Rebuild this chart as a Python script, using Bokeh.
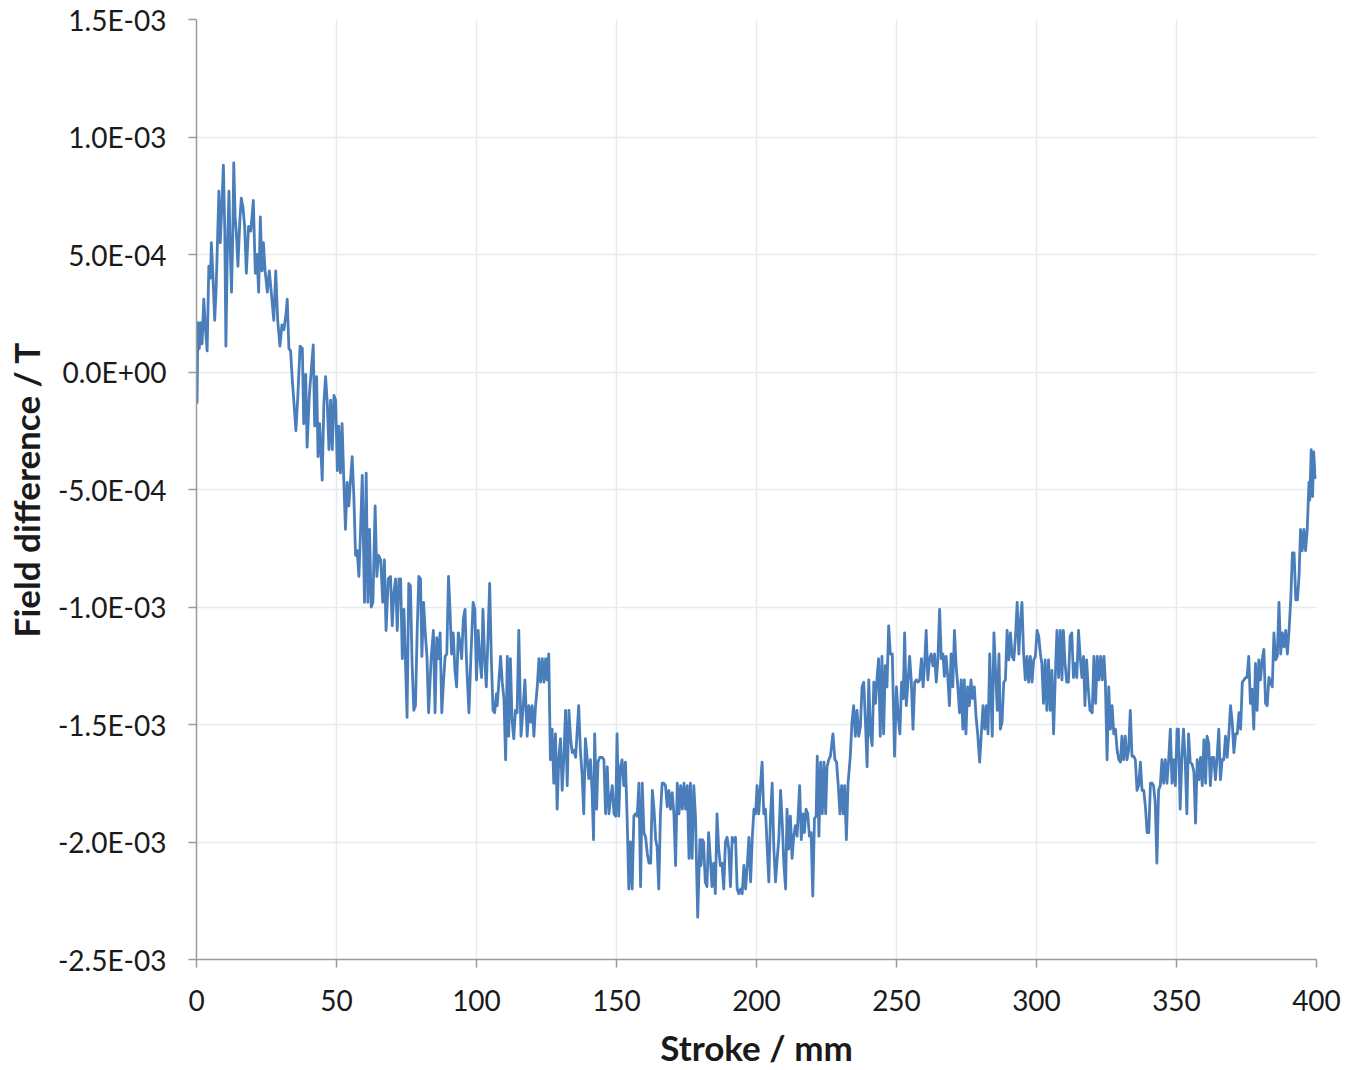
from bokeh.plotting import figure
from bokeh.models import Range1d, FixedTicker, CustomJSTickFormatter
from bokeh.embed import file_html
from bokeh.resources import INLINE

# Readings (stroke in mm, field difference in units of 1E-4 T)
readings_000_033 = [
    (0.0, -0.6), (0.2, -1.3), (0.5, 2.1), (1.0, 1.0), (1.5, 2.1), (2.0, 1.2), (2.6, 3.1), (3.2, 1.8),
    (3.8, 0.9), (4.4, 4.5), (5.0, 4.0), (5.3, 5.5), (5.8, 4.3), (6.5, 2.2), (7.0, 3.5), (7.6, 6.0),
    (8.0, 7.7), (8.5, 5.5), (9.2, 7.5), (9.6, 8.8), (10.1, 6.0), (10.5, 1.1), (11.0, 5.0), (11.6, 7.7),
    (12.0, 5.5), (12.5, 3.4), (13.0, 6.0), (13.3, 8.9), (13.8, 6.6), (14.2, 6.0), (14.8, 4.5), (15.5, 6.5),
    (16.0, 7.4), (16.6, 7.0), (17.2, 6.2), (17.8, 4.2), (18.6, 6.2), (19.4, 6.0), (20.3, 7.3), (21.0, 4.2),
    (21.6, 5.0), (22.2, 3.4), (22.8, 6.6), (23.4, 4.3), (23.9, 5.5), (24.5, 4.3), (25.3, 3.4), (26.0, 4.3),
    (27.0, 3.0), (27.6, 2.2), (28.3, 4.3), (29.0, 2.2), (29.8, 1.1), (30.5, 2.0), (31.2, 1.8), (32.0, 2.5),
    (32.4, 3.1), (33.0, 1.0),
]
readings_033_069 = [
    (33.6, 0.9), (34.2, -0.3), (34.8, -1.3), (35.5, -2.5), (36.2, -1.0), (37.0, 1.1), (37.8, 1.0), (38.3, -2.2),
    (39.0, -0.1), (39.5, -3.2), (40.3, -1.0), (41.0, 0.1), (41.7, 1.15), (42.2, -2.3), (42.9, -0.2), (43.4, -3.6),
    (44.0, -2.2), (44.9, -4.6), (45.5, -1.3), (46.1, -0.2), (46.7, -1.3), (47.3, -3.3), (47.9, -1.2), (48.5, -3.3),
    (49.1, -1.0), (49.7, -1.2), (50.3, -4.2), (50.8, -2.3), (51.4, -4.3), (52.0, -2.2), (52.6, -4.6), (53.2, -6.7),
    (53.8, -4.7), (54.4, -5.7), (55.0, -4.6), (55.6, -3.6), (56.2, -5.3), (56.8, -7.8), (57.4, -7.6), (58.0, -8.7),
    (58.6, -6.7), (59.2, -4.4), (60.0, -9.8), (60.6, -4.3), (61.2, -9.8), (61.8, -6.7), (62.4, -10.0), (63.0, -9.8),
    (63.8, -5.7), (64.4, -8.7), (65.0, -7.8), (65.8, -8.0), (66.5, -9.8), (67.1, -8.0), (67.7, -11.0), (68.5, -8.8),
]
readings_069_107 = [
    (69.3, -8.7), (69.9, -10.8), (70.5, -9.4), (71.1, -8.8), (71.7, -11.0), (72.3, -8.8), (72.9, -8.8), (73.5, -12.2),
    (74.1, -10.1), (74.6, -12.2), (75.2, -14.7), (75.8, -9.0), (76.4, -9.1), (77.0, -12.4), (77.6, -14.4), (78.2, -14.2),
    (78.8, -11.1), (79.4, -8.7), (80.0, -8.8), (80.5, -12.1), (81.1, -9.8), (81.7, -11.1), (82.3, -12.1), (82.9, -14.5),
    (83.8, -12.2), (84.6, -11.0), (85.2, -14.5), (85.8, -11.3), (86.4, -12.2), (87.0, -11.1), (87.6, -14.5), (88.2, -13.2),
    (88.8, -12.1), (89.4, -12.0), (90.0, -8.7), (90.5, -10.0), (91.1, -12.0), (91.7, -11.1), (92.3, -12.7), (92.9, -13.4),
    (93.5, -11.1), (94.1, -11.5), (94.7, -12.2), (95.3, -10.5), (95.9, -10.1), (96.4, -12.2), (97.3, -14.5), (98.0, -12.1),
    (98.8, -9.8), (99.4, -10.1), (100.0, -13.1), (100.6, -11.0), (101.2, -12.2), (101.8, -13.0), (102.3, -10.1), (102.9, -12.2),
    (103.5, -13.4), (104.1, -11.3), (104.7, -9.0), (105.3, -12.2), (105.9, -14.4), (106.5, -14.5), (107.1, -13.7),
]
readings_107_141 = [
    (107.4, -14.2), (108.6, -12.1), (109.2, -13.2), (109.8, -13.9), (110.4, -16.5), (111.0, -12.1), (111.5, -15.5), (112.1, -12.2),
    (112.7, -14.8), (113.3, -15.6), (113.9, -14.4), (114.5, -14.5), (115.1, -11.0), (115.9, -15.5), (116.7, -14.2), (117.3, -13.1),
    (118.1, -15.5), (118.7, -14.2), (119.3, -14.9), (119.9, -14.2), (120.5, -15.5), (121.1, -14.2), (121.7, -13.4), (122.3, -12.2),
    (122.9, -13.2), (123.5, -12.2), (124.1, -13.2), (124.7, -12.2), (125.2, -13.1), (125.8, -12.0), (126.4, -16.5), (127.0, -15.2),
    (127.6, -17.5), (128.2, -15.4), (128.8, -18.6), (129.4, -16.4), (130.0, -15.6), (130.6, -17.8), (131.2, -16.4), (131.8, -14.4),
    (132.4, -17.6), (133.0, -14.4), (133.6, -15.6), (134.2, -16.2), (134.8, -16.1), (135.4, -16.4), (136.0, -15.2), (136.5, -14.2),
    (137.1, -16.1), (137.7, -17.1), (138.3, -18.8), (138.9, -15.6), (139.5, -16.4), (140.1, -17.3), (140.7, -16.5),
]
readings_141_180 = [
    (141.3, -17.9), (141.8, -19.9), (142.2, -15.4), (142.9, -18.6), (143.4, -16.6), (144.0, -16.4), (144.9, -16.4), (145.5, -16.5),
    (146.1, -18.8), (146.7, -16.8), (147.3, -18.8), (147.9, -18.1), (148.5, -17.6), (149.1, -18.8), (149.7, -18.9), (150.2, -15.4),
    (150.8, -18.9), (151.4, -16.8), (152.0, -16.5), (152.6, -17.6), (153.2, -16.6), (153.8, -19.0), (154.4, -22.0), (155.0, -20.0),
    (155.6, -22.0), (156.2, -18.9), (156.8, -18.8), (157.4, -18.9), (158.0, -17.5), (158.6, -21.9), (159.2, -17.5), (159.8, -19.6),
    (160.4, -19.8), (161.0, -20.5), (161.6, -20.9), (162.2, -20.9), (162.8, -17.8), (163.4, -18.6), (164.0, -19.9), (164.5, -20.2),
    (165.1, -22.0), (165.7, -18.8), (166.3, -17.5), (166.9, -17.5), (167.5, -17.6), (168.1, -18.5), (168.7, -17.8), (169.3, -18.6),
    (169.9, -17.9), (170.5, -18.8), (171.1, -21.0), (171.7, -17.5), (172.3, -18.8), (172.9, -17.6), (173.5, -18.6), (174.1, -17.5),
    (174.7, -18.6), (175.3, -17.6), (175.9, -20.7), (176.4, -17.5), (177.0, -20.7), (177.6, -17.6), (178.2, -18.9), (179.0, -23.2),
    (179.8, -19.9),
]
readings_180_212 = [
    (180.2, -21.0), (180.7, -19.9), (181.1, -20.0), (181.7, -21.7), (182.3, -21.9), (182.9, -19.6), (183.5, -20.7), (184.1, -21.9),
    (184.7, -20.9), (185.3, -22.2), (185.9, -18.8), (186.5, -20.3), (187.1, -21.0), (187.7, -20.9), (188.3, -22.0), (188.9, -20.0),
    (189.5, -19.8), (190.1, -20.3), (190.7, -21.9), (191.3, -19.8), (191.9, -20.0), (192.5, -19.8), (193.1, -22.0), (193.7, -22.2),
    (194.3, -22.0), (194.9, -22.2), (195.5, -21.0), (196.1, -22.0), (196.7, -21.0), (197.3, -19.8), (197.9, -21.7), (198.5, -19.8),
    (199.1, -18.6), (199.7, -18.8), (200.2, -17.6), (200.8, -18.8), (201.4, -17.6), (202.0, -16.6), (202.6, -18.8), (203.2, -18.6),
    (203.8, -20.2), (204.4, -21.7), (205.0, -18.9), (205.6, -17.5), (206.2, -20.3), (206.8, -21.7), (207.4, -20.7), (208.0, -19.8),
    (208.6, -17.8), (209.2, -19.2), (209.8, -21.0), (210.4, -22.0), (210.9, -18.6), (211.5, -20.3), (212.1, -18.9),
]
readings_213_248 = [
    (212.7, -20.7), (213.3, -19.75), (213.9, -19.3), (214.5, -19.75), (215.4, -17.6), (216.0, -19.9), (216.6, -18.8), (217.1, -19.6),
    (217.7, -18.6), (218.3, -18.8), (218.9, -19.75), (219.5, -19.6), (220.1, -22.3), (220.7, -19.0), (221.3, -18.9), (221.7, -16.35),
    (222.3, -19.75), (222.9, -16.6), (223.5, -18.8), (224.1, -16.6), (224.7, -18.8), (225.2, -16.8), (225.8, -16.5), (226.4, -16.35),
    (227.3, -15.4), (228.0, -16.5), (228.6, -16.6), (229.2, -17.6), (229.8, -18.8), (230.4, -17.6), (231.0, -18.8), (231.5, -17.6),
    (232.1, -19.9), (232.7, -17.5), (233.5, -16.35), (234.1, -14.9), (234.7, -14.2), (235.3, -15.5), (235.9, -14.4), (236.5, -15.5),
    (237.1, -15.1), (237.7, -13.4), (238.3, -13.2), (238.9, -14.9), (239.5, -16.8), (240.1, -13.1), (240.7, -15.4), (241.3, -15.9),
    (241.9, -13.2), (242.5, -14.1), (243.0, -13.1), (243.6, -12.2), (244.2, -15.5), (244.8, -12.1), (245.4, -15.4), (246.0, -12.5),
    (246.6, -13.4), (247.2, -10.8), (247.8, -12.0),
]
readings_248_284 = [
    (248.5, -12.0), (249.3, -16.35), (250.0, -13.4), (250.6, -14.65), (251.2, -15.4), (251.8, -13.2), (252.4, -13.9), (252.9, -11.1),
    (253.5, -14.2), (254.1, -13.2), (254.7, -12.1), (255.3, -13.2), (255.9, -15.2), (256.5, -13.2), (257.1, -13.1), (257.7, -13.2),
    (258.3, -13.1), (258.9, -12.2), (259.5, -13.4), (260.0, -12.5), (260.6, -11.0), (261.2, -13.1), (261.8, -12.2), (262.4, -12.0),
    (263.0, -12.5), (263.6, -12.0), (264.2, -13.2), (264.8, -12.2), (265.4, -10.1), (266.0, -12.2), (266.6, -12.0), (267.1, -12.95),
    (267.7, -12.1), (268.3, -12.95), (268.9, -14.2), (269.5, -12.0), (270.1, -13.4), (270.7, -11.0), (271.3, -12.5), (271.9, -13.4),
    (272.5, -14.5), (273.1, -13.1), (273.7, -15.2), (274.2, -13.1), (274.8, -15.4), (275.4, -13.4), (276.0, -14.2), (276.6, -13.1),
    (277.2, -13.9), (277.8, -13.4), (278.4, -14.65), (279.0, -15.4), (279.7, -16.6), (280.3, -15.4), (280.9, -14.2), (281.5, -15.2),
    (282.1, -14.2), (282.7, -15.4), (283.3, -12.0),
]
readings_284_319 = [
    (284.2, -15.5), (284.8, -11.1), (285.4, -12.8), (286.0, -14.4), (286.6, -12.0), (287.1, -15.2), (287.7, -14.9), (288.3, -13.2),
    (288.9, -13.1), (289.5, -11.0), (290.1, -12.25), (290.7, -11.1), (291.3, -12.1), (291.9, -12.25), (292.5, -11.25), (293.1, -9.8),
    (293.7, -12.0), (294.2, -10.7), (294.8, -9.8), (295.4, -12.0), (296.0, -13.1), (296.6, -12.1), (297.2, -13.2), (297.8, -12.1),
    (298.4, -13.2), (299.0, -12.25), (299.6, -12.1), (300.2, -11.0), (300.8, -11.25), (301.4, -12.0), (301.9, -12.4), (302.5, -14.1),
    (303.1, -12.25), (303.7, -14.4), (304.3, -12.25), (304.9, -14.4), (305.5, -12.7), (306.1, -15.4), (306.7, -13.0), (307.3, -11.0),
    (307.9, -13.0), (308.5, -11.0), (309.1, -13.1), (309.6, -11.0), (310.2, -12.4), (310.8, -13.2), (311.4, -13.2), (312.0, -11.25),
    (312.6, -11.1), (313.2, -13.0), (313.8, -12.4), (314.4, -13.0), (315.0, -11.0), (315.6, -12.1), (316.2, -13.0), (316.8, -12.1),
    (317.3, -14.2), (317.9, -12.25), (318.5, -13.5), (319.1, -14.4),
]
readings_320_355 = [
    (319.9, -14.5), (320.5, -12.1), (321.1, -14.1), (321.7, -12.1), (322.3, -13.1), (322.9, -12.1), (323.5, -13.1), (324.1, -12.1),
    (324.6, -13.2), (325.2, -16.5), (325.8, -13.4), (326.4, -15.2), (327.0, -14.2), (327.6, -15.4), (328.2, -15.2), (328.8, -16.1),
    (329.4, -16.5), (330.0, -16.6), (330.5, -15.5), (331.1, -16.5), (331.7, -15.5), (332.3, -16.5), (332.9, -16.1), (333.5, -14.4),
    (334.1, -16.35), (334.7, -16.35), (335.3, -16.5), (335.9, -17.8), (336.5, -17.6), (337.1, -16.6), (337.7, -17.8), (338.3, -17.8),
    (338.9, -18.5), (339.5, -19.6), (340.1, -19.6), (340.7, -17.5), (341.3, -17.5), (341.8, -17.6), (342.4, -18.3), (343.0, -20.9),
    (343.6, -17.8), (344.2, -17.6), (344.8, -16.5), (345.4, -17.5), (346.0, -16.5), (346.6, -17.5), (347.2, -16.5), (347.8, -15.2),
    (348.4, -17.5), (349.0, -16.5), (349.6, -17.6), (350.2, -15.2), (350.7, -15.2), (351.3, -18.6), (351.9, -16.5), (352.5, -15.2),
    (353.1, -16.5), (353.7, -18.8), (354.3, -15.4), (354.9, -16.6),
]
readings_355_400 = [
    (355.6, -16.7), (356.2, -17.0), (356.8, -19.2), (357.4, -16.5), (358.0, -17.35), (358.6, -16.4), (359.2, -17.6), (359.8, -15.65),
    (360.4, -17.5), (360.9, -15.5), (361.5, -15.8), (362.1, -17.6), (362.7, -16.4), (363.3, -16.4), (363.9, -17.35), (364.5, -16.4),
    (365.1, -15.2), (365.7, -17.35), (366.3, -16.5), (366.9, -16.5), (367.5, -15.5), (368.1, -16.4), (368.7, -15.4), (369.3, -14.2),
    (369.9, -14.9), (370.5, -16.2), (371.1, -15.4), (371.7, -15.4), (372.3, -14.5), (372.9, -15.2), (373.5, -13.2), (374.1, -13.1),
    (374.7, -13.0), (375.2, -13.0), (375.8, -12.1), (376.4, -14.1), (377.0, -13.5), (377.6, -15.2), (378.2, -12.4), (378.8, -14.4),
    (379.4, -12.25), (380.0, -13.1), (380.6, -12.25), (381.2, -11.8), (381.8, -14.1), (382.4, -14.2), (383.0, -13.0), (383.6, -13.2),
    (384.2, -13.4), (384.8, -11.1), (385.4, -12.25), (386.0, -12.1), (386.6, -9.8), (387.2, -12.0), (387.8, -11.1), (388.4, -11.7),
    (389.0, -11.0), (389.6, -12.0), (390.2, -11.0), (390.8, -9.7), (391.4, -7.7), (392.0, -7.7), (392.6, -9.7), (393.2, -9.7),
    (393.8, -8.6), (394.3, -6.7), (394.9, -7.6), (395.5, -6.7), (396.1, -7.6), (396.7, -6.7), (397.3, -4.7), (397.6, -5.45),
    (398.1, -3.3), (398.6, -5.3), (399.0, -3.4), (399.5, -4.5), (400.0, -4.4),
]

x_ticks = [0, 50, 100, 150, 200, 250, 300, 350, 400]
y_ticks = [-0.0025, -0.0020, -0.0015, -0.0010, -0.0005, 0.0, 0.0005, 0.0010, 0.0015]
x_title = "Stroke / mm"
y_title = "Field difference / T"

all_readings = (readings_000_033 + readings_033_069 + readings_069_107 + readings_107_141 +
                readings_141_180 + readings_180_212 + readings_213_248 + readings_248_284 +
                readings_284_319 + readings_320_355 + readings_355_400)
stroke = [r[0] for r in all_readings]
field = [r[1] * 1e-4 for r in all_readings]

p = figure(width=1355, height=1070, output_backend="svg", toolbar_location=None,
           x_range=Range1d(0, 400), y_range=Range1d(-0.0025, 0.0015),
           min_border_left=196, min_border_right=39, min_border_top=19, min_border_bottom=110)
p.outline_line_color = None
p.background_fill_color = "white"
p.border_fill_color = "white"

p.line(stroke, field, line_color="#4A7EBB", line_width=2.8, line_join="round")

FONT = "Lato"
for ax in (p.xaxis[0], p.yaxis[0]):
    ax.axis_line_color = "#9a9a9a"
    ax.axis_line_width = 1.5
    ax.major_tick_line_color = "#9a9a9a"
    ax.major_tick_line_width = 1.5
    ax.major_tick_in = 0
    ax.major_tick_out = 8
    ax.minor_tick_line_color = None
    ax.major_label_text_font = FONT
    ax.major_label_text_font_size = "28px"
    ax.major_label_text_color = "#1a1a1a"
    ax.axis_label_text_font = FONT
    ax.axis_label_text_font_style = "bold"
    ax.axis_label_text_font_size = "35px"
    ax.axis_label_text_color = "#1a1a1a"

p.xaxis.ticker = FixedTicker(ticks=x_ticks)
p.yaxis.ticker = FixedTicker(ticks=y_ticks)
p.xaxis.axis_label = x_title
p.yaxis.axis_label = y_title
p.xaxis.major_label_standoff = 22
p.yaxis.major_label_standoff = 22
p.xaxis.axis_label_standoff = 12
p.yaxis.axis_label_standoff = 8
p.yaxis.formatter = CustomJSTickFormatter(code="""
    var s = tick.toExponential(1).toUpperCase();
    var parts = s.split("E");
    var e = parseInt(parts[1]);
    var a = Math.abs(e);
    var m = parts[0];
    if (m === "-0.0") { m = "0.0"; }
    return m + "E" + (e < 0 ? "-" : "+") + (a < 10 ? "0" : "") + a;
""")

p.xgrid.ticker = FixedTicker(ticks=x_ticks)
p.ygrid.ticker = FixedTicker(ticks=y_ticks)
p.xgrid.grid_line_color = "#e6ebf2"
p.ygrid.grid_line_color = "#e6ebf2"
p.xgrid.grid_line_width = 1.5
p.ygrid.grid_line_width = 1.5

open("out.html", "w").write(file_html(p, INLINE))
